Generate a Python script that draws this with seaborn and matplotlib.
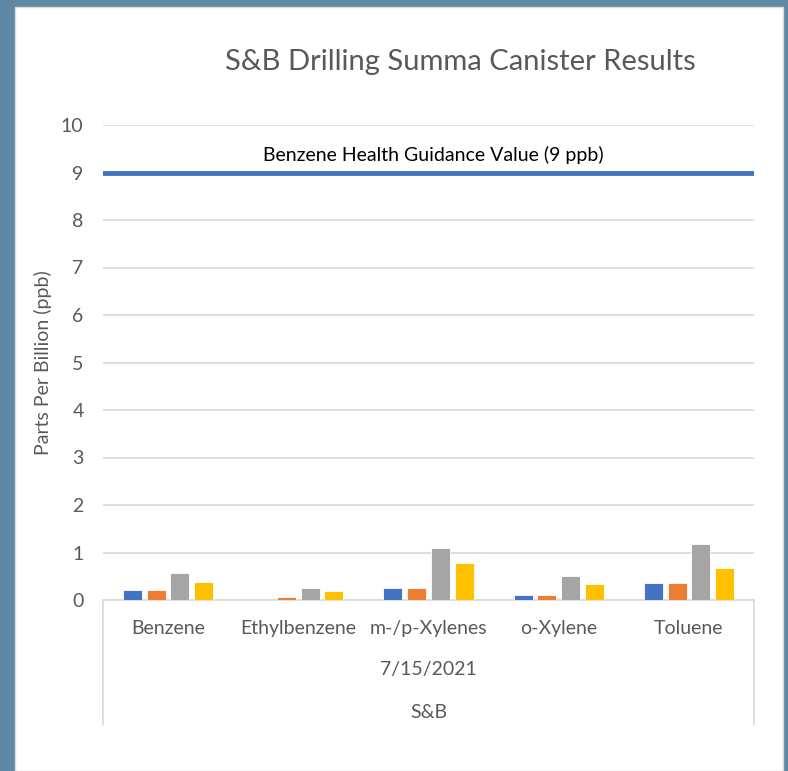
import numpy as np
import pandas as pd
import matplotlib.pyplot as plt
import seaborn as sns
from matplotlib.patches import Rectangle

# values (ppb)
compounds = ["Benzene", "Ethylbenzene", "m-/p-Xylenes", "o-Xylene", "Toluene"]
samples = ["Sample 1", "Sample 2", "Sample 3", "Sample 4"]
sample_1 = [0.21, np.nan, 0.25, 0.10, 0.35]
sample_2 = [0.21, 0.06, 0.25, 0.11, 0.36]
sample_3 = [0.57, 0.26, 1.09, 0.50, 1.18]
sample_4 = [0.37, 0.19, 0.77, 0.33, 0.68]
guidance_value = 9
guidance_label = "Benzene Health Guidance Value (9 ppb)"
sample_date = "7/15/2021"
site = "S&B"
title = "S&B Drilling Summa Canister Results"
y_ticks = list(range(0, 11))

colors = ["#4472C4", "#ED7D31", "#A5A5A5", "#FFC000"]

df = pd.DataFrame({
    "Compound": compounds * 4,
    "Sample": np.repeat(samples, len(compounds)),
    "ppb": sample_1 + sample_2 + sample_3 + sample_4,
})

sns.set_theme(style="white")
plt.rcParams["font.family"] = ["Lato", "DejaVu Sans"]

fig = plt.figure(figsize=(7.88, 7.71), dpi=100)
fig.patch.set_facecolor("#5E88A4")
# white chart panel, kept behind the axes
fig.patches.append(Rectangle((15 / 788, 0), 768 / 788, 764 / 771, transform=fig.transFigure,
                             facecolor="white", edgecolor="#D9D9D9", linewidth=1, zorder=-1))

ax = fig.add_axes([103 / 788, 171 / 771, 651 / 788, 475 / 771])
ax.set_facecolor("none")

sns.barplot(data=df, x="Compound", y="ppb", hue="Sample", hue_order=samples,
            palette=colors, saturation=1, width=0.73, gap=0.2, edgecolor="white",
            linewidth=0.6, legend=False, ax=ax, zorder=3)

ax.set_xlim(-0.5, 4.5)
ax.set_ylim(0, 10)
ax.set_yticks(y_ticks)
ax.yaxis.grid(True, color="#D9D9D9", linewidth=1.2)
ax.set_axisbelow(True)
ax.tick_params(axis="y", length=0, pad=14, labelsize=14, labelcolor="#595959")
ax.set_xticks([])
ax.set_xlabel("")
ax.set_ylabel("")
for s in ["left", "right", "top"]:
    ax.spines[s].set_visible(False)
ax.spines["bottom"].set_color("#D9D9D9")
ax.spines["bottom"].set_linewidth(1.2)

# guidance line
ax.axhline(guidance_value, color="#4472C4", linewidth=3.5, zorder=4)
ax.text(2.04, guidance_value + 0.37, guidance_label, ha="center", va="center",
        fontsize=14, color="black")

# multi-level category axis
for i, c in enumerate(compounds):
    ax.text(i, -0.059, c, transform=ax.get_xaxis_transform(), ha="center", va="center",
            fontsize=14, color="#595959")
ax.text(0.5, -0.147, sample_date, transform=ax.transAxes, ha="center", va="center",
        fontsize=14, color="#595959")
ax.text(0.5, -0.236, site, transform=ax.transAxes, ha="center", va="center",
        fontsize=14, color="#595959")
for x in [0, 1]:
    ax.plot([x, x], [0, -0.263], transform=ax.transAxes, color="#D9D9D9",
            linewidth=1.2, clip_on=False)

fig.text(43 / 788, 1 - 363 / 771, "Parts Per Billion (ppb)", rotation=90,
         ha="center", va="center", fontsize=14, color="#595959")
fig.text(460 / 788, 1 - 62 / 771, title, ha="center", va="center",
         fontsize=21, color="#595959")

fig.savefig("out.png", dpi=100)
